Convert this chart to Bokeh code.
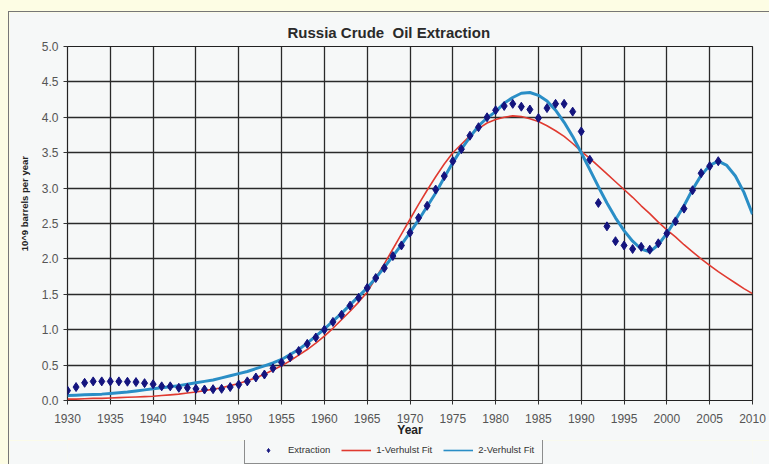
from bokeh.plotting import figure
from bokeh.layouts import column
from bokeh.models import ColumnDataSource, FixedTicker, NumeralTickFormatter, Legend, LegendItem, Range1d, Title
from bokeh.embed import file_html
from bokeh.resources import INLINE

# ---- data ----
ext_years = list(range(1930, 2007))
ext_values = [0.14, 0.19, 0.25, 0.27, 0.27, 0.27, 0.27, 0.265, 0.26, 0.245,
              0.23, 0.20, 0.20, 0.18, 0.18, 0.165, 0.155, 0.16, 0.165, 0.19,
              0.225, 0.27, 0.325, 0.367, 0.456, 0.537, 0.61, 0.70, 0.80, 0.89,
              1.00, 1.11, 1.21, 1.34, 1.45, 1.59, 1.73, 1.87, 2.04, 2.19,
              2.37, 2.58, 2.75, 2.98, 3.17, 3.38, 3.55, 3.74, 3.86, 4.00,
              4.10, 4.16, 4.19, 4.15, 4.11, 3.99, 4.13, 4.19, 4.19, 4.08,
              3.80, 3.40, 2.79, 2.46, 2.25, 2.19, 2.14, 2.17, 2.13, 2.22,
              2.36, 2.53, 2.71, 2.97, 3.21, 3.31, 3.38]

fit_years = list(range(1930, 2011))
fit1_values = [0.02, 0.02, 0.025, 0.03, 0.03, 0.035, 0.04, 0.045, 0.05, 0.055,
               0.06, 0.07, 0.08, 0.09, 0.105, 0.12, 0.14, 0.16, 0.18, 0.21,
               0.24, 0.28, 0.32, 0.37, 0.43, 0.49, 0.56, 0.64, 0.72, 0.81,
               0.91, 1.02, 1.14, 1.26, 1.39, 1.53, 1.73, 1.93, 2.14, 2.35,
               2.56, 2.77, 2.97, 3.16, 3.34, 3.50, 3.62, 3.74, 3.84, 3.92,
               3.97, 4.00, 4.02, 4.01, 3.98, 3.94, 3.88, 3.81, 3.73, 3.63,
               3.52, 3.42, 3.31, 3.20, 3.09, 2.98, 2.87, 2.75, 2.64, 2.52,
               2.41, 2.31, 2.20, 2.10, 2.00, 1.91, 1.82, 1.74, 1.66, 1.58,
               1.51]
fit2_values = [0.07, 0.075, 0.08, 0.085, 0.09, 0.10, 0.11, 0.12, 0.135, 0.15,
               0.165, 0.18, 0.195, 0.21, 0.23, 0.25, 0.27, 0.29, 0.32, 0.35,
               0.38, 0.41, 0.45, 0.49, 0.53, 0.58, 0.65, 0.72, 0.81, 0.91,
               1.01, 1.12, 1.23, 1.35, 1.47, 1.59, 1.73, 1.88, 2.04, 2.20,
               2.37, 2.55, 2.74, 2.93, 3.15, 3.36, 3.55, 3.72, 3.88, 3.99,
               4.08, 4.20, 4.28, 4.34, 4.35, 4.31, 4.23, 4.10, 3.93, 3.73,
               3.50, 3.26, 3.02, 2.79, 2.58, 2.40, 2.25, 2.14, 2.10, 2.20,
               2.36, 2.55, 2.75, 2.98, 3.18, 3.32, 3.38, 3.32, 3.17, 2.94,
               2.63]

x_ticks = list(range(1930, 2011, 5))
y_ticks = [0.0, 0.5, 1.0, 1.5, 2.0, 2.5, 3.0, 3.5, 4.0, 4.5, 5.0]

title_text = "Russia Crude\u00a0 Oil Extraction"
x_label = "Year"
y_label = "10^9 barrels per year"
names = ["Extraction", "1-Verhulst Fit", "2-Verhulst Fit"]

FONT = "Liberation Sans"
BG = "#f6f8f8"
DOT = "#14147e"
RED = "#e03a30"
BLUE = "#2a8ec6"

# ---------------- main chart ----------------
p = figure(width=760, height=428, output_backend="svg", toolbar_location=None,
           x_range=Range1d(1930, 2010), y_range=Range1d(0, 5),
           min_border_left=58, min_border_right=17, min_border_top=34, min_border_bottom=40)
p.background_fill_color = BG
p.border_fill_color = BG
p.outline_line_color = "#222"
p.outline_line_width = 1.2

p.title = Title(text=title_text, align="left", offset=220, text_font=FONT,
                text_font_size="15px", text_font_style="bold", text_color="#2a2a2a", standoff=11)

src_e = ColumnDataSource(dict(x=ext_years, y=ext_values))
src_f = ColumnDataSource(dict(x=fit_years, y1=fit1_values, y2=fit2_values))

p.line("x", "y1", source=src_f, line_color=RED, line_width=1.6)
p.line("x", "y2", source=src_f, line_color=BLUE, line_width=3)
p.scatter("x", "y", source=src_e, marker="diamond", size=9, fill_color=DOT, line_color=DOT)

for ax in (p.xaxis[0], p.yaxis[0]):
    ax.major_label_text_font = FONT
    ax.major_label_text_font_size = "12px"
    ax.major_label_text_color = "#555"
    ax.axis_label_text_font = FONT
    ax.axis_label_text_font_style = "bold"
    ax.axis_label_text_color = "#222"
    ax.axis_line_color = None
    ax.major_tick_line_color = "#333"
    ax.major_tick_out = 4
    ax.major_tick_in = 0
    ax.minor_tick_line_color = None

p.xaxis.ticker = FixedTicker(ticks=x_ticks)
p.yaxis.ticker = FixedTicker(ticks=y_ticks)
p.yaxis.formatter = NumeralTickFormatter(format="0.0")
p.xaxis.axis_label = x_label
p.yaxis.axis_label = "\u00a0" * 15 + y_label
p.xaxis.axis_label_text_font_size = "12px"
p.yaxis.axis_label_text_font_size = "9.5px"
p.xaxis.axis_label_standoff = -3
p.yaxis.axis_label_standoff = 9
p.xaxis.major_label_standoff = 9
p.yaxis.major_label_standoff = 5

p.grid.grid_line_color = "#2a2a2a"
p.grid.grid_line_width = 1.3

# ---------------- legend strip ----------------
lf = figure(width=760, height=24, output_backend="svg", toolbar_location=None,
            x_range=Range1d(0, 1), y_range=Range1d(-10, -9),
            x_axis_location=None, y_axis_location=None,
            min_border_left=0, min_border_right=0, min_border_top=0, min_border_bottom=0)
lf.background_fill_color = BG
lf.border_fill_color = BG
lf.outline_line_color = None
lf.grid.visible = False

g0 = lf.scatter("x", "y", source=src_e, marker="diamond", size=6, fill_color=DOT, line_color=DOT)
g1 = lf.line("x", "y1", source=src_f, line_color=RED, line_width=1.6)
g2 = lf.line("x", "y2", source=src_f, line_color=BLUE, line_width=1.6)

legend = Legend(items=[LegendItem(label=names[0], renderers=[g0]),
                       LegendItem(label=names[1], renderers=[g1]),
                       LegendItem(label=names[2], renderers=[g2])],
                orientation="horizontal", location=(177, 0))
legend.label_text_font = FONT
legend.label_text_font_size = "9.5px"
legend.label_text_color = "#333"
legend.label_height = 10
legend.glyph_height = 10
legend.glyph_width = 30
legend.label_standoff = 5
legend.spacing = 11
legend.padding = 8
legend.margin = 0
legend.border_line_color = "#222"
legend.border_line_width = 1.2
legend.background_fill_color = BG
legend.background_fill_alpha = 1
lf.add_layout(legend, "center")

layout = column(p, lf, spacing=0)
layout.styles = {"margin-left": "8px", "margin-top": "11px",
                 "border-top": "1px solid #777", "border-left": "1px solid #777"}

html = file_html(layout, INLINE)
html = html.replace("</head>", "<style>html, body { background-color: #fdfde4; }</style></head>", 1)
open("out.html", "w").write(html)
